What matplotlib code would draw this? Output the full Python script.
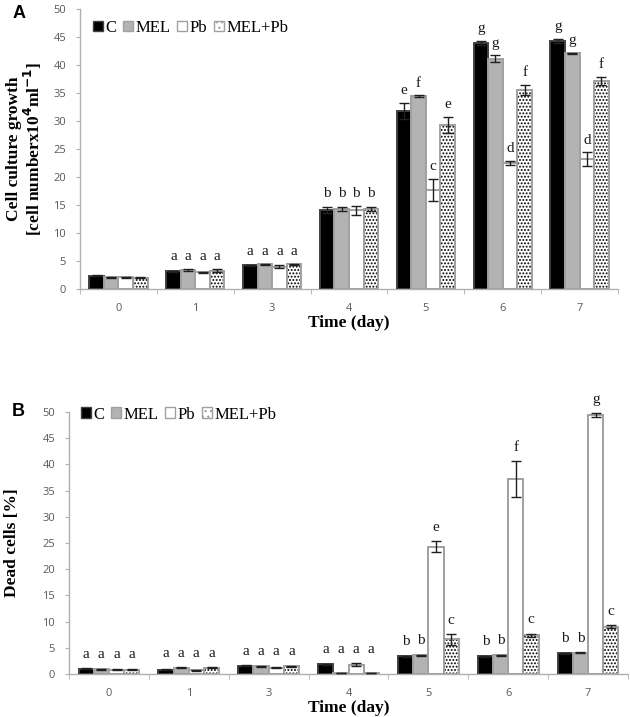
import matplotlib
matplotlib.use("Agg")
import matplotlib.pyplot as plt
import matplotlib.patches as mpatches
import numpy as np

days = ["0", "1", "3", "4", "5", "6", "7"]
series = ["C", "MEL", "Pb", "MEL+Pb"]

# Panel A: cell culture growth
a_C = [2.4, 3.2, 4.2, 14.1, 31.8, 43.9, 44.3]
a_MEL = [2.1, 3.4, 4.4, 14.3, 34.4, 41.1, 42.1]
a_Pb = [2.1, 3.0, 4.0, 14.1, 17.7, 22.5, 23.2]
a_MELPb = [2.0, 3.3, 4.4, 14.3, 29.3, 35.6, 37.2]
a_C_err = [0.1, 0.1, 0.1, 0.6, 1.4, 0.4, 0.4]
a_MEL_err = [0.1, 0.2, 0.1, 0.3, 0.2, 0.6, 0.1]
a_Pb_err = [0.1, 0.1, 0.2, 0.8, 2.0, 0.4, 1.2]
a_MELPb_err = [0.1, 0.2, 0.1, 0.3, 1.5, 0.9, 0.7]
a_let_C = ["", "a", "a", "b", "e", "g", "g"]
a_let_MEL = ["", "a", "a", "b", "f", "g", "g"]
a_let_Pb = ["", "a", "a", "b", "c", "d", "d"]
a_let_MELPb = ["", "a", "a", "b", "e", "f", "f"]

# Panel B: dead cells
b_C = [1.0, 0.8, 1.6, 1.9, 3.4, 3.4, 4.0]
b_MEL = [0.9, 1.2, 1.5, 0.2, 3.6, 3.6, 4.1]
b_Pb = [0.8, 0.75, 1.2, 1.8, 24.3, 37.2, 49.4]
b_MELPb = [0.8, 1.2, 1.5, 0.2, 6.6, 7.4, 9.0]
b_C_err = [0.1, 0.1, 0.1, 0.1, 0.1, 0.1, 0.1]
b_MEL_err = [0.1, 0.1, 0.1, 0.05, 0.1, 0.1, 0.1]
b_Pb_err = [0.1, 0.1, 0.1, 0.3, 1.1, 3.4, 0.4]
b_MELPb_err = [0.1, 0.1, 0.1, 0.05, 1.0, 0.3, 0.3]
b_let_C = ["a", "a", "a", "a", "b", "b", "b"]
b_let_MEL = ["a", "a", "a", "a", "b", "b", "b"]
b_let_Pb = ["a", "a", "a", "a", "e", "f", "g"]
b_let_MELPb = ["a", "a", "a", "a", "c", "c", "c"]

SERIF = ["Liberation Serif", "DejaVu Serif"]
SANS = ["Open Sans", "DejaVu Sans"]
EDGE = "#a0a0a0"
SPINE = "#b0b0b0"
TICKC = "#595959"

plt.rcParams["hatch.linewidth"] = 0.9

fig = plt.figure(figsize=(6.3, 7.17), dpi=100)

styles = [
    dict(fc="black", ec="#404040", hatch=None),
    dict(fc="#b3b3b3", ec=EDGE, hatch=None),
    dict(fc="white", ec=EDGE, hatch=None),
    dict(fc="white", ec=EDGE, hatch="....."),
]


def draw_panel(ax, vals, errs, lets, ylabel, letter_pad, leg_anchor):
    x = np.arange(len(days))
    w = 0.19
    offs = (np.arange(4) - 1.5) * w
    tops = np.array(vals) + np.array(errs)
    for i in range(4):
        st = styles[i]
        xi = x + offs[i]
        if st["hatch"]:
            ax.bar(xi, vals[i], w, color="white", edgecolor="black",
                   hatch=st["hatch"], linewidth=0, zorder=2)
            ax.bar(xi, vals[i], w, fill=False, edgecolor=st["ec"],
                   linewidth=1.4, zorder=3)
        else:
            ax.bar(xi, vals[i], w, color=st["fc"], edgecolor=st["ec"],
                   linewidth=1.4, zorder=3)
        ax.errorbar(xi, vals[i], yerr=errs[i], fmt="none", ecolor="#202020",
                    elinewidth=1.0, capsize=3.5, capthick=1.0, zorder=4)
    for j in range(len(days)):
        group = [lets[i][j] for i in range(4)]
        same = len(set(group)) == 1
        for i in range(4):
            t = lets[i][j]
            if not t:
                continue
            base = tops[:, j].max() if same else tops[i, j]
            ax.text(x[j] + offs[i], base + letter_pad, t, ha="center",
                    va="bottom", family=SERIF, fontsize=11, color="#1a1a1a")
    ax.set_xlim(-0.5, len(days) - 0.5)
    ax.set_ylim(0, 50)
    ax.set_yticks(np.arange(0, 51, 5))
    ax.set_xticks(x)
    ax.set_xticklabels(days)
    ax.set_xticks(np.arange(-0.5, len(days) + 0.5, 1), minor=True)
    ax.tick_params(axis="x", which="major", length=0, pad=10)
    ax.tick_params(axis="x", which="minor", length=3.5, color=SPINE, direction="out")
    ax.tick_params(axis="y", length=3, color=SPINE, pad=7)
    for lab in ax.get_xticklabels() + ax.get_yticklabels():
        lab.set_family(SANS)
        lab.set_fontsize(8)
        lab.set_color(TICKC)
    for s in ["top", "right"]:
        ax.spines[s].set_visible(False)
    for s in ["left", "bottom"]:
        ax.spines[s].set_color(SPINE)
        ax.spines[s].set_linewidth(1.0)
    ax.set_xlabel("Time (day)", family=SERIF, fontweight="bold", fontsize=12.5,
                  labelpad=1)
    ax.set_ylabel(ylabel, family=SERIF, fontweight="bold", fontsize=12.5,
                  linespacing=1.0)
    handles = []
    for i, st in enumerate(styles):
        if st["hatch"]:
            handles.append(mpatches.Patch(facecolor="white", edgecolor=EDGE,
                                          hatch="...", label=series[i]))
        else:
            handles.append(mpatches.Patch(facecolor=st["fc"], edgecolor=st["ec"],
                                          label=series[i]))
    ax.legend(handles=handles, ncol=4, loc="center left",
              bbox_to_anchor=leg_anchor, frameon=False,
              borderaxespad=0, borderpad=0,
              handlelength=0.6, handleheight=0.6, handletextpad=0.15,
              columnspacing=0.4, prop={"family": SERIF, "size": 12})
    return ax


axA = fig.add_axes([80 / 630, 1 - 289 / 717, 538 / 630, 280 / 717])
draw_panel(axA, [a_C, a_MEL, a_Pb, a_MELPb],
           [a_C_err, a_MEL_err, a_Pb_err, a_MELPb_err],
           [a_let_C, a_let_MEL, a_let_Pb, a_let_MELPb],
           "Cell culture growth\n[cell numberx10$^{\\mathbf{4}}$ml$^{\\mathbf{-1}}$]", 1.0,
           (0.024, 0.932))
axA.yaxis.set_label_coords(-0.067, 0.5)

axB = fig.add_axes([69 / 630, 1 - 674 / 717, 559 / 630, 262 / 717])
draw_panel(axB, [b_C, b_MEL, b_Pb, b_MELPb],
           [b_C_err, b_MEL_err, b_Pb_err, b_MELPb_err],
           [b_let_C, b_let_MEL, b_let_Pb, b_let_MELPb],
           "Dead cells [%]", 1.4, (0.021, 0.99))
axB.yaxis.set_label_coords(-0.088, 0.5)

fig.text(19 / 630, 1 - 14 / 717, "A", family=["Liberation Sans"], fontweight="bold",
         fontsize=13, ha="center", va="center")
fig.text(18 / 630, 1 - 411 / 717, "B", family=["Liberation Sans"], fontweight="bold",
         fontsize=13, ha="center", va="center")

fig.savefig("out.png", dpi=100, facecolor="white")
